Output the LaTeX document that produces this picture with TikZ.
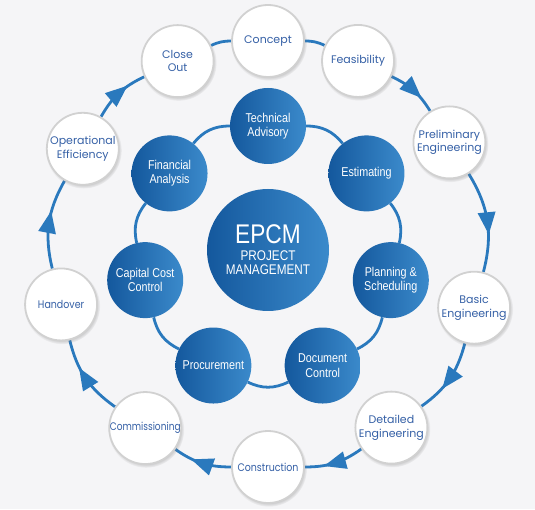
\documentclass[tikz,border=0pt]{standalone}
\usepackage{fontspec}
\setmainfont{Poppins}
\newfontfamily\narrowfont[FakeStretch=0.84]{Liberation Sans}
\usetikzlibrary{calc}
\usetikzlibrary{arrows.meta}
\usetikzlibrary{decorations.markings}
\usetikzlibrary{shadows}
\definecolor{paper}{HTML}{F5F5F7}
\definecolor{ringBlue}{HTML}{2A79BD}
\definecolor{stageText}{HTML}{3560A6}
\definecolor{hubDark}{HTML}{14589D}
\definecolor{hubLight}{HTML}{3B8ACB}
\pgfdeclarelayer{back}
\pgfdeclarelayer{links}
\pgfsetlayers{back,links,main}
\newcommand{\squeeze}[2]{{\addfontfeatures{FakeStretch=#1}#2}}
\tikzset{
  stage/.style = {circle, fill=white, draw=black!18, line width=1.8pt, minimum size=72pt, inner sep=0pt,
    align=center, text=stageText, font=\fontsize{11}{13.5}\selectfont,
    circular drop shadow={shadow xshift=0.8pt, shadow yshift=-1.5pt, shadow scale=1.06, opacity=0.5}},
  service/.style = {circle, left color=hubDark, right color=hubLight, minimum size=76pt, inner sep=0pt,
    align=center, text=white, font=\narrowfont\fontsize{12.8}{14.5}\selectfont},
  hub/.style = {service, minimum size=122pt},
  ring/.style = {color=ringBlue, line width=2.8pt},
  flow/.style = {ring, postaction={decorate},
    decoration={markings, mark=at position 0.55 with
      {\fill[ringBlue] (8pt,0) -- (-14pt,9pt) -- (-14pt,-9pt) -- cycle;}}}
}

\begin{document}
\begin{tikzpicture}[x=1pt, y=1pt]
    % Canvas
    \begin{pgfonlayer}{back}
        \fill[paper] (0,0) rectangle (535,509);
    \end{pgfonlayer}
    \useasboundingbox (0,0) rectangle (535,509);

    % Coordinates
    \coordinate (O) at (268,255);
    \coordinate (I) at (268,257);

    %==== Centre ====
    \node[hub] (epcm) at (268,259) {\fontsize{27}{30}\selectfont EPCM\\[2pt]
        \fontsize{14}{15.5}\selectfont PROJECT\\ \fontsize{14}{15.5}\selectfont MANAGEMENT};

    %==== Inner services ====
    \node[service] (advisory)   at ($(I)+(90:126)$)     {Technical\\Advisory};
    \node[service] (estimating) at ($(I)+(38.6:126)$)   {Estimating};
    \node[service] (planning)   at ($(I)+(-12.9:126)$)  {Planning \&\\Scheduling};
    \node[service] (document)   at ($(I)+(-64.3:126)$)  {Document\\Control};
    \node[service] (procure)    at ($(I)+(-115.7:126)$) {Procurement};
    \node[service] (capital)    at ($(I)+(-167.1:126)$) {Capital Cost\\Control};
    \node[service] (financial)  at ($(I)+(141.4:126)$)  {Financial\\Analysis};

    %==== Outer stages ====
    \node[stage] (concept)      at ($(O)+(90:213)$)     {Concept};
    \node[stage] (feasibility)  at ($(O)+(65:213)$)     {Feasibility};
    \node[stage] (prelim)       at ($(O)+(31.6:213)$)   {Preliminary\\Engineering};
    \node[stage] (basic)        at ($(O)+(-14.6:213)$)  {Basic\\Engineering};
    \node[stage] (detailed)     at ($(O)+(-54.6:213)$)  {Detailed\\Engineering};
    \node[stage] (construction) at ($(O)+(-90:213)$)    {\squeeze{0.86}{Construction}};
    \node[stage] (commission)   at ($(O)+(-125.2:213)$) {\squeeze{0.82}{Commissioning}};
    \node[stage] (handover)     at ($(O)+(-166.3:213)$) {\squeeze{0.86}{Handover}};
    \node[stage] (operational)  at ($(O)+(150.4:213)$)  {Operational\\Efficiency};
    \node[stage] (closeout)     at ($(O)+(115.1:213)$)  {Close\\Out};

    \begin{pgfonlayer}{links}
        % Inner ring
        \draw[ring] (advisory) to[bend left=25.7] (estimating);
        \draw[ring] (estimating) to[bend left=25.7] (planning);
        \draw[ring] (planning) to[bend left=25.7] (document);
        \draw[ring] (document) to[bend left=25.7] (procure);
        \draw[ring] (procure) to[bend left=25.7] (capital);
        \draw[ring] (capital) to[bend left=25.7] (financial);
        \draw[ring] (financial) to[bend left=25.7] (advisory);

        % Outer cycle
        \draw[ring] (concept) to[bend left=12.5] (feasibility);
        \draw[flow] (feasibility) to[bend left=16.7] (prelim);
        \draw[flow] (prelim) to[bend left=23.1] (basic);
        \draw[flow] (basic) to[bend left=20] (detailed);
        \draw[flow] (detailed) to[bend left=17.7] (construction);
        \draw[flow] (construction) to[bend left=17.6] (commission);
        \draw[flow] (commission) to[bend left=20.6] (handover);
        \draw[flow] (handover) to[bend left=21.7] (operational);
        \draw[flow] (operational) to[bend left=17.6] (closeout);
        \draw[ring] (closeout) to[bend left=12.5] (concept);
    \end{pgfonlayer}
\end{tikzpicture}
\end{document}
